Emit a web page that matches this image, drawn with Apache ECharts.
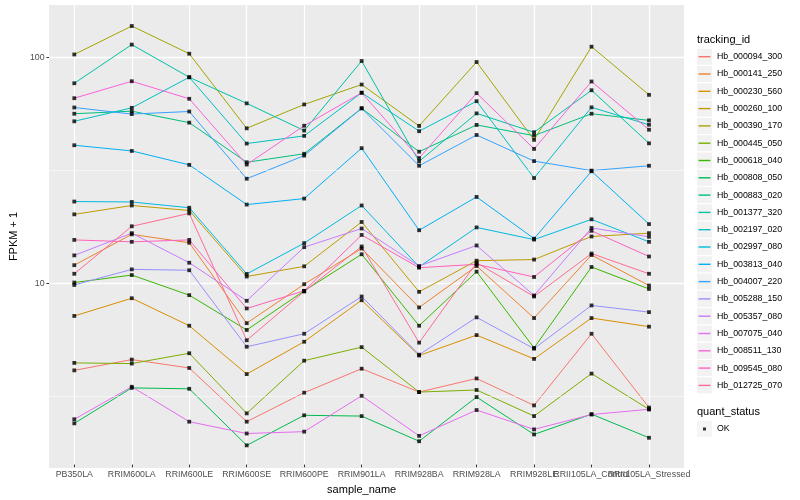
<!DOCTYPE html>
<html>
<head>
<meta charset="utf-8">
<script src="https://cdn.jsdelivr.net/npm/echarts@6/dist/echarts.min.js"></script>
<style>
html,body{margin:0;padding:0;background:#fff;}
#chart{width:800px;height:500px;}
</style>
</head>
<body>
<div id="chart"></div>
<script>
// ---------------- data ----------------
const categories = ['PB350LA','RRIM600LA','RRIM600LE','RRIM600SE','RRIM600PE','RRIM901LA','RRIM928BA','RRIM928LA','RRIM928LE','RRII105LA_Control','RRII105LA_Stressed'];

const trackingIds = ['Hb_000094_300','Hb_000141_250','Hb_000230_560','Hb_000260_100','Hb_000390_170','Hb_000445_050','Hb_000618_040','Hb_000808_050','Hb_000883_020','Hb_001377_320','Hb_002197_020','Hb_002997_080','Hb_003813_040','Hb_004007_220','Hb_005288_150','Hb_005357_080','Hb_007075_040','Hb_008511_130','Hb_009545_080','Hb_012725_070'];

const hb000094_300 = [4.0, 4.47, 4.1, 2.36, 3.18, 4.07, 3.2, 3.68, 2.79, 5.83, 2.73];
const hb000141_250 = [11.8, 16.2, 14.86, 6.5, 9.7, 14.0, 7.64, 11.7, 6.85, 13.1, 9.57];
const hb000230_560 = [7.0, 8.4, 6.33, 3.85, 5.37, 8.23, 4.66, 5.75, 4.5, 6.85, 6.27];
const hb000260_100 = [19.9, 21.8, 20.7, 10.5, 11.66, 18.4, 8.97, 12.36, 12.5, 15.85, 16.4];
const hb000390_170 = [103, 138, 103.8, 48.2, 61.6, 75.6, 49.4, 95.3, 42.8, 111.6, 68];
const hb000445_050 = [4.32, 4.29, 4.77, 2.57, 4.42, 5.08, 3.2, 3.27, 2.5, 3.87, 2.68];
const hb000618_040 = [9.87, 10.66, 8.67, 6.06, 9.06, 13.2, 6.33, 11.04, 5.04, 11.58, 9.24];
const hb000808_050 = [2.32, 3.34, 3.31, 1.85, 2.52, 2.5, 1.93, 3.04, 2.07, 2.55, 2.0];
const hb000883_020 = [56, 57.5, 51.1, 34.0, 37.1, 59.2, 37.9, 49.9, 44.7, 56, 52.3];
const hb001377_320 = [76.6, 114, 81.5, 62.3, 47.1, 96.3, 34.3, 56.2, 46.3, 71.3, 41.3];
const hb002197_020 = [51.8, 59.5, 81.5, 41.2, 44.6, 69.5, 46.8, 63.7, 28.9, 59.8, 50];
const hb002997_080 = [22.7, 22.6, 21.3, 10.78, 14.8, 21.8, 11.6, 17.4, 15.35, 18.9, 15.0];
const hb003813_040 = [40.5, 38.2, 33.1, 22, 23.4, 39.3, 16.9, 23.8, 15.5, 31, 18];
const hb004007_220 = [59.7, 55.8, 57.3, 28.7, 36.4, 59.2, 32.8, 45, 34.4, 31.2, 32.8];
const hb005288_150 = [9.63, 11.3, 11.2, 5.1, 5.83, 8.55, 4.7, 6.9, 5.0, 7.8, 7.28];
const hb005357_080 = [13.05, 16.4, 12.1, 8.18, 14.2, 17.2, 11.7, 14.45, 8.64, 17.3, 15.8];
const hb007075_040 = [2.42, 3.38, 2.36, 2.09, 2.13, 3.08, 2.04, 2.66, 2.18, 2.54, 2.68];
const hb008511_130 = [65.7, 78.2, 65.3, 33.2, 49.5, 69.5, 35.5, 69.2, 39, 78, 47.5];
const hb009545_080 = [15.3, 15.0, 15.3, 7.56, 9.06, 16.1, 11.5, 11.9, 10.45, 16.8, 12.9];
const hb012725_070 = [10.8, 17.6, 20.1, 5.45, 9.0, 14.3, 5.32, 12.1, 8.55, 13.3, 10.8];

const seriesValues = [hb000094_300, hb000141_250, hb000230_560, hb000260_100, hb000390_170, hb000445_050, hb000618_040, hb000808_050, hb000883_020, hb001377_320, hb002197_020, hb002997_080, hb003813_040, hb004007_220, hb005288_150, hb005357_080, hb007075_040, hb008511_130, hb009545_080, hb012725_070];

const seriesColors = ['#F8766D','#EA8331','#D89000','#C09B00','#A3A500','#7CAE00','#39B600','#00BB4E','#00BF7D','#00C1A3','#00BFC4','#00BAE0','#00B0F6','#35A2FF','#9590FF','#C77CFF','#E76BF3','#FA62DB','#FF62BC','#FF6C91'];

const yMajorTicks = [10, 100];
const yMinorTicks = [3.1623, 31.623];
const statusName = 'OK';

// ---------------- chart ----------------
const Y_MIN = 1.518, Y_MAX = 171.3;
const FONT = '"Liberation Sans", Arial, Helvetica, sans-serif';

const lineSeries = trackingIds.map((id, k) => ({
  name: id,
  type: 'line',
  xAxisIndex: 1,
  yAxisIndex: 1,
  data: seriesValues[k],
  symbol: 'none',
  lineStyle: { color: seriesColors[k], width: 1 },
  itemStyle: { color: seriesColors[k] },
  z: 3,
  silent: true
}));

const pointData = [];
seriesValues.forEach(arr => arr.forEach((v, i) => pointData.push([i, v])));

const pointSeries = {
  name: statusName,
  type: 'scatter',
  xAxisIndex: 1,
  yAxisIndex: 1,
  data: pointData,
  symbol: 'rect',
  symbolSize: 3.8,
  itemStyle: { color: '#000000' },
  z: 5,
  silent: true
};

const minorSeries = {
  name: '__minor',
  type: 'line',
  xAxisIndex: 0,
  yAxisIndex: 0,
  data: [],
  z: 1,
  silent: true,
  markLine: {
    silent: true,
    symbol: ['none', 'none'],
    label: { show: false },
    lineStyle: { color: '#FFFFFF', width: 0.55, type: 'solid' },
    data: yMinorTicks.map(v => ({ yAxis: v }))
  }
};

const legendCommon = {
  orient: 'vertical',
  padding: 0,
  itemHeight: 16,
  itemGap: 1.3,
  selectedMode: false,
  textStyle: { fontSize: 8.8, fontFamily: FONT }
};

const option = {
  animation: false,
  textStyle: { fontFamily: FONT },
  title: [
    { text: 'tracking_id', left: 697, top: 34, padding: 0,
      textStyle: { fontSize: 11, fontWeight: 'normal', color: '#000', fontFamily: FONT } },
    { text: 'quant_status', left: 697, top: 406, padding: 0,
      textStyle: { fontSize: 11, fontWeight: 'normal', color: '#000', fontFamily: FONT } }
  ],
  grid: [
    { left: 40, top: 5, width: 644, height: 463, show: true, backgroundColor: '#EBEBEB', borderWidth: 0, containLabel: false },
    { left: 74.3, top: 5, width: 574.7, height: 463, show: false, containLabel: false }
  ],
  xAxis: [
    { gridIndex: 0, type: 'value', min: 0, max: 1, show: false },
    { gridIndex: 1, type: 'category', data: categories, boundaryGap: false,
      axisLine: { show: false },
      axisTick: { show: true, length: 2.7, interval: 0, lineStyle: { color: '#333333', width: 1 } },
      axisLabel: { interval: 0, color: '#4D4D4D', fontSize: 8.8, margin: 5.5, fontFamily: FONT },
      splitLine: { show: true, interval: 0, lineStyle: { color: '#FFFFFF', width: 1.2 } },
      name: 'sample_name', nameLocation: 'middle', nameGap: 15.5,
      nameTextStyle: { fontSize: 11, color: '#000', fontFamily: FONT }
    }
  ],
  yAxis: [
    { gridIndex: 0, type: 'log', logBase: 10, min: Y_MIN, max: Y_MAX,
      axisLine: { show: false },
      axisTick: { show: true, length: 2.7, customValues: yMajorTicks, lineStyle: { color: '#333333', width: 1 } },
      axisLabel: { show: true, color: '#4D4D4D', fontSize: 8.8, margin: 4.5, customValues: yMajorTicks, fontFamily: FONT },
      splitLine: { show: true, lineStyle: { color: '#FFFFFF', width: 1.3 } },
      minorSplitLine: { show: false },
      name: 'FPKM + 1', nameLocation: 'middle', nameRotate: 90, nameGap: 22,
      nameTextStyle: { fontSize: 11, color: '#000', fontFamily: FONT }
    },
    { gridIndex: 1, type: 'log', logBase: 10, min: Y_MIN, max: Y_MAX, show: false }
  ],
  legend: [
    // grey key backgrounds (carry the text)
    Object.assign({}, legendCommon, {
      left: 697, top: 48.7, itemWidth: 15, icon: 'rect', z: 4,
      data: trackingIds,
      itemStyle: { color: '#F2F2F2', borderWidth: 0 },
      textStyle: { fontSize: 8.8, fontFamily: FONT, color: '#000' }
    }),
    // coloured line keys
    Object.assign({}, legendCommon, {
      left: 698.5, top: 48.7, itemWidth: 12, z: 6,
      icon: 'path://M0,0M12,16M0,7.3h12v1.4h-12z',
      data: trackingIds,
      itemStyle: { borderWidth: 0 },
      textStyle: { fontSize: 8.8, fontFamily: FONT, color: 'rgba(0,0,0,0)' }
    }),
    Object.assign({}, legendCommon, {
      left: 697, top: 421, itemWidth: 15, icon: 'rect', z: 4,
      data: [statusName],
      itemStyle: { color: '#F2F2F2', borderWidth: 0 },
      textStyle: { fontSize: 8.8, fontFamily: FONT, color: '#000' }
    }),
    Object.assign({}, legendCommon, {
      left: 697, top: 421, itemWidth: 15, z: 6,
      icon: 'path://M0,0M15,16M6,6.5h3v3h-3z',
      data: [statusName],
      itemStyle: { color: '#000', borderWidth: 0 },
      textStyle: { fontSize: 8.8, fontFamily: FONT, color: 'rgba(0,0,0,0)' }
    })
  ],
  series: [minorSeries].concat(lineSeries, [pointSeries])
};

const chart = echarts.init(document.getElementById('chart'), null, { renderer: 'canvas' });
chart.setOption(option);
</script>
</body>
</html>
